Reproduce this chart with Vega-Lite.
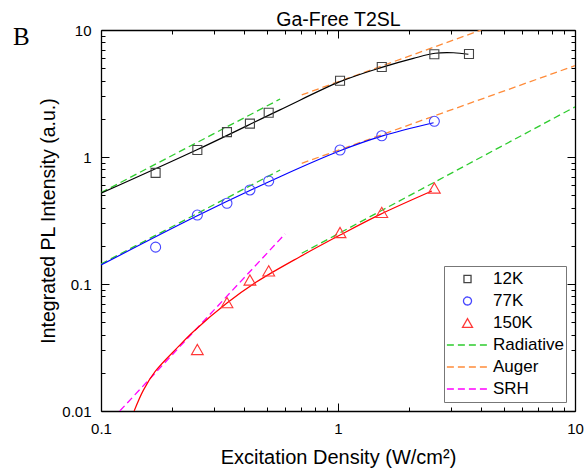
{
  "$schema": "https://vega.github.io/schema/vega-lite/v6.json",
  "width": 474,
  "height": 381,
  "autosize": {"type": "none"},
  "padding": {"left": 101, "top": 30, "right": 9, "bottom": 62},
  "background": "white",
  "title": {"text": "B", "anchor": "start", "frame": "group", "font": "Liberation Serif", "fontSize": 25, "fontWeight": "normal", "color": "black", "baseline": "alphabetic", "dx": -88, "dy": 64},
  "datasets": {
    "pts": [
      {"series": "12K", "x": 0.17, "y": 0.75},
      {"series": "12K", "x": 0.255, "y": 1.135},
      {"series": "12K", "x": 0.34, "y": 1.57},
      {"series": "12K", "x": 0.425, "y": 1.83},
      {"series": "12K", "x": 0.51, "y": 2.23},
      {"series": "12K", "x": 1.02, "y": 3.99},
      {"series": "12K", "x": 1.53, "y": 5.11},
      {"series": "12K", "x": 2.55, "y": 6.44},
      {"series": "12K", "x": 3.57, "y": 6.47},
      {"series": "77K", "x": 0.17, "y": 0.195},
      {"series": "77K", "x": 0.255, "y": 0.349},
      {"series": "77K", "x": 0.34, "y": 0.432},
      {"series": "77K", "x": 0.425, "y": 0.55},
      {"series": "77K", "x": 0.51, "y": 0.647},
      {"series": "77K", "x": 1.02, "y": 1.135},
      {"series": "77K", "x": 1.53, "y": 1.47},
      {"series": "77K", "x": 2.55, "y": 1.91},
      {"series": "150K", "x": 0.255, "y": 0.0305},
      {"series": "150K", "x": 0.34, "y": 0.0714},
      {"series": "150K", "x": 0.425, "y": 0.1075},
      {"series": "150K", "x": 0.51, "y": 0.127},
      {"series": "150K", "x": 1.02, "y": 0.2545},
      {"series": "150K", "x": 1.53, "y": 0.366},
      {"series": "150K", "x": 2.55, "y": 0.57}
    ],
    "fits": [
      {"grp": "12K", "x": 0.1, "y": 0.518},
      {"grp": "12K", "x": 0.254, "y": 1.14},
      {"grp": "12K", "x": 0.569, "y": 2.35},
      {"grp": "12K", "x": 1.02, "y": 3.92},
      {"grp": "12K", "x": 1.53, "y": 5.08},
      {"grp": "12K", "x": 2.08, "y": 5.98},
      {"grp": "12K", "x": 2.57, "y": 6.56},
      {"grp": "12K", "x": 3.07, "y": 6.62},
      {"grp": "12K", "x": 3.55, "y": 6.44},
      {"grp": "77K", "x": 0.1, "y": 0.141},
      {"grp": "77K", "x": 0.2535, "y": 0.343},
      {"grp": "77K", "x": 0.569, "y": 0.7},
      {"grp": "77K", "x": 1.02, "y": 1.12},
      {"grp": "77K", "x": 1.53, "y": 1.46},
      {"grp": "77K", "x": 2.53, "y": 1.86},
      {"grp": "150K", "x": 0.138, "y": 0.01},
      {"grp": "150K", "x": 0.151, "y": 0.0146},
      {"grp": "150K", "x": 0.169, "y": 0.0204},
      {"grp": "150K", "x": 0.212, "y": 0.0321},
      {"grp": "150K", "x": 0.245, "y": 0.0421},
      {"grp": "150K", "x": 0.339, "y": 0.0705},
      {"grp": "150K", "x": 0.454, "y": 0.104},
      {"grp": "150K", "x": 0.691, "y": 0.164},
      {"grp": "150K", "x": 1.02, "y": 0.243},
      {"grp": "150K", "x": 1.5, "y": 0.352},
      {"grp": "150K", "x": 2.49, "y": 0.54}
    ],
    "dash": [
      {"series": "Radiative", "grp": "12K", "x": 0.1, "y": 0.524},
      {"series": "Radiative", "grp": "12K", "x": 0.57, "y": 2.86},
      {"series": "Radiative", "grp": "77K", "x": 0.1, "y": 0.1437},
      {"series": "Radiative", "grp": "77K", "x": 0.57, "y": 0.79},
      {"series": "Radiative", "grp": "150K", "x": 0.703, "y": 0.1745},
      {"series": "Radiative", "grp": "150K", "x": 10, "y": 2.48},
      {"series": "Auger", "grp": "12K", "x": 0.703, "y": 3.08},
      {"series": "Auger", "grp": "12K", "x": 4.02, "y": 10},
      {"series": "Auger", "grp": "77K", "x": 0.703, "y": 0.892},
      {"series": "Auger", "grp": "77K", "x": 10, "y": 5.24},
      {"series": "SRH", "grp": "150K", "x": 0.12, "y": 0.01},
      {"series": "SRH", "grp": "150K", "x": 0.598, "y": 0.248}
    ]
  },
  "layer": [
    {
      "data": {"name": "dash"},
      "mark": {"type": "line", "strokeDash": [7, 4], "strokeWidth": 1.3, "clip": true},
      "encoding": {
        "x": {"field": "x", "type": "quantitative",
          "scale": {"type": "log", "domain": [0.1, 10], "nice": false},
          "axis": {"orient": "bottom",
            "values": [0.1, 0.2, 0.3, 0.4, 0.5, 0.6, 0.7, 0.8, 0.9, 1, 2, 3, 4, 5, 6, 7, 8, 9, 10],
            "labelExpr": "datum.value == 0.1 ? '0.1' : datum.value == 1 ? '1' : datum.value == 10 ? '10' : ''",
            "tickSize": {"condition": {"test": "datum.value == 0.1 || datum.value == 1 || datum.value == 10", "value": -8}, "value": -4},
            "labelPadding": 18,
            "title": "Excitation Density (W/cm²)", "titlePadding": 7, "titleFontSize": 20}},
        "y": {"field": "y", "type": "quantitative",
          "scale": {"type": "log", "domain": [0.01, 10], "nice": false},
          "axis": {"orient": "left",
            "values": [0.01, 0.02, 0.03, 0.04, 0.05, 0.06, 0.07, 0.08, 0.09, 0.1, 0.2, 0.3, 0.4, 0.5, 0.6, 0.7, 0.8, 0.9, 1, 2, 3, 4, 5, 6, 7, 8, 9, 10],
            "labelExpr": "datum.value == 0.01 ? '0.01' : datum.value == 0.1 ? '0.1' : datum.value == 1 ? '1' : datum.value == 10 ? '10' : ''",
            "tickSize": {"condition": {"test": "datum.value == 0.01 || datum.value == 0.1 || datum.value == 1 || datum.value == 10", "value": -8}, "value": -4},
            "labelPadding": 18,
            "title": "Integrated PL Intensity (a.u.)", "titlePadding": 3}},
        "color": {"field": "series", "type": "nominal",
          "scale": {"domain": ["12K", "77K", "150K", "Radiative", "Auger", "SRH"],
                    "range": ["#444444", "#4646ff", "#ff3636", "#2ecc2e", "#ff8c3a", "#ff00ff"]},
          "legend": {"title": null, "orient": "bottom-right", "offset": 9, "padding": 2,
            "strokeColor": "#777777", "fillColor": "white",
            "clipHeight": 22, "rowPadding": 0, "symbolSize": 1700, "symbolStrokeWidth": 1.3,
            "symbolType": "stroke", "labelFontSize": 17, "labelFont": "Liberation Sans",
            "labelColor": "black", "labelOffset": 4, "labelLimit": 200,
            "encode": {
              "legend": {"update": {"strokeWidth": {"value": 1}}},
              "symbols": {"update": {
              "shape": {"signal": "datum.value === '12K' ? 'square' : datum.value === '77K' ? 'circle' : datum.value === '150K' ? 'triangle-up' : 'stroke'"},
              "size": {"signal": "datum.value === '12K' ? 50 : datum.value === '77K' ? 64 : datum.value === '150K' ? 100 : 1700"},
              "strokeDash": {"signal": "(datum.value === '12K' || datum.value === '77K' || datum.value === '150K') ? [1, 0] : [7, 4]"},
              "fill": {"value": "transparent"}
            }}}}},
        "detail": {"field": "grp"}
      }
    },
    {
      "data": {"name": "fits"},
      "mark": {"type": "line", "strokeWidth": 1.2, "interpolate": "catmull-rom", "clip": true},
      "encoding": {
        "x": {"field": "x", "type": "quantitative",
          "axis": {"orient": "top",
            "values": [0.1, 0.2, 0.3, 0.4, 0.5, 0.6, 0.7, 0.8, 0.9, 1, 2, 3, 4, 5, 6, 7, 8, 9, 10],
            "labels": false,
            "tickSize": {"condition": {"test": "datum.value == 0.1 || datum.value == 1 || datum.value == 10", "value": -8}, "value": -4},
            "title": "Ga-Free T2SL", "titlePadding": 0}},
        "y": {"field": "y", "type": "quantitative",
          "axis": {"orient": "right",
            "values": [0.01, 0.02, 0.03, 0.04, 0.05, 0.06, 0.07, 0.08, 0.09, 0.1, 0.2, 0.3, 0.4, 0.5, 0.6, 0.7, 0.8, 0.9, 1, 2, 3, 4, 5, 6, 7, 8, 9, 10],
            "labels": false,
            "tickSize": {"condition": {"test": "datum.value == 0.01 || datum.value == 0.1 || datum.value == 1 || datum.value == 10", "value": -8}, "value": -4},
            "title": null}},
        "stroke": {"field": "grp", "type": "nominal",
          "scale": {"domain": ["12K", "77K", "150K"], "range": ["#000000", "#0000ff", "#ff0000"]},
          "legend": null}
      }
    },
    {
      "data": {"name": "pts"},
      "transform": [{"filter": "datum.series === '12K'"}],
      "mark": {"type": "point", "shape": "square", "filled": false, "size": 81, "strokeWidth": 1.1, "opacity": 1},
      "encoding": {
        "x": {"field": "x", "type": "quantitative", "axis": null},
        "y": {"field": "y", "type": "quantitative", "axis": null},
        "color": {"field": "series", "type": "nominal"}
      }
    },
    {
      "data": {"name": "pts"},
      "transform": [{"filter": "datum.series === '77K'"}],
      "mark": {"type": "point", "shape": "circle", "filled": false, "size": 100, "strokeWidth": 1.1, "opacity": 1},
      "encoding": {
        "x": {"field": "x", "type": "quantitative", "axis": null},
        "y": {"field": "y", "type": "quantitative", "axis": null},
        "color": {"field": "series", "type": "nominal"}
      }
    },
    {
      "data": {"name": "pts"},
      "transform": [{"filter": "datum.series === '150K'"}],
      "mark": {"type": "point", "shape": "triangle-up", "filled": false, "size": 140, "strokeWidth": 1.1, "opacity": 1},
      "encoding": {
        "x": {"field": "x", "type": "quantitative", "axis": null},
        "y": {"field": "y", "type": "quantitative", "axis": null},
        "color": {"field": "series", "type": "nominal"}
      }
    }
  ],
  "resolve": {"axis": {"x": "independent", "y": "independent"}},
  "config": {
    "font": "Liberation Sans",
    "view": {"stroke": null},
    "axis": {"domainColor": "black", "domainWidth": 1.3, "tickColor": "black", "tickWidth": 1,
      "labelColor": "black", "labelFont": "Liberation Sans", "labelFontSize": 15,
      "titleFont": "Liberation Sans", "titleFontSize": 19.5, "titleFontWeight": "normal", "titleColor": "black",
      "grid": false, "labelOverlap": false, "labelFlush": false, "labelBound": false}
  }
}
